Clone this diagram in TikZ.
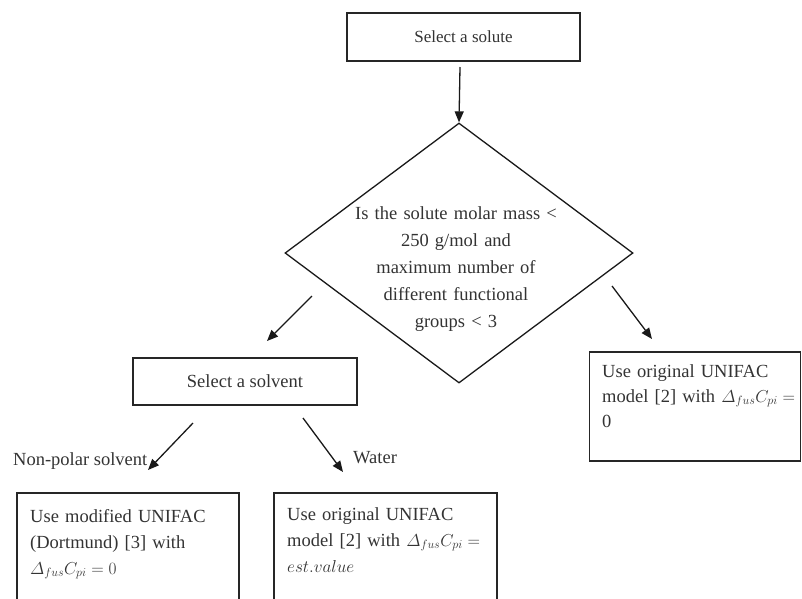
\documentclass[tikz,border=0pt]{standalone}
\usepackage{amsmath}
\usepackage{fontspec}
\setmainfont{Liberation Serif}
\usetikzlibrary{shapes.geometric,arrows.meta}
\newcommand{\fusdelta}{\varDelta_{fus}C_{pi}}
\begin{document}
\begin{tikzpicture}[x=1pt,y=-1pt,
  box/.style={draw=black!85, line width=1.1pt, inner sep=0pt},
  txt/.style={text=black!80, font=\fontsize{18.5}{26}\selectfont, inner sep=0pt},
  arr/.style={-{Triangle[length=11pt,width=9pt]}, line width=1.3pt, draw=black!90}]
\useasboundingbox (0,0) rectangle (802,598);
\clip (0,0) rectangle (802,598);
% boxes
\node[box, txt, font=\fontsize{17}{22}\selectfont, minimum width=233pt, minimum height=48pt] (solute) at (463.5,37) {Select a solute};
\node[draw=black!90, line width=1.3pt, diamond, minimum width=348pt, minimum height=260pt, inner sep=0pt] (dec) at (459,253) {};
\node[txt, font=\fontsize{18.5}{27}\selectfont, anchor=base, text width=230pt, align=center] (dtext) at (456,219) {Is the solute molar mass <\\250 g/mol and\\maximum number of\\different functional\\groups < 3};
\node[box, txt, minimum width=224pt, minimum height=47pt] (solvent) at (245,381.5) {Select a solvent};
\node[box, minimum width=211pt, minimum height=109pt] (rbox) at (695,406.5) {};
\node[box, minimum width=222pt, minimum height=130pt] (blbox) at (128,558) {};
\node[box, minimum width=223pt, minimum height=130pt] (bmbox) at (385.5,558) {};
% box texts
\node[txt, font=\fontsize{18.5}{25}\selectfont, anchor=base west, text width=195pt, align=left] (rtext) at (602,377) {Use original UNIFAC\\model [2] with $\fusdelta =$\\0};
\node[txt, anchor=base west, text width=205pt, align=left] (bltext) at (30,522) {Use modified UNIFAC\\(Dortmund) [3] with\\$\fusdelta = 0$};
\node[txt, anchor=base west, text width=205pt, align=left] (bmtext) at (287,520) {Use original UNIFAC\\model [2] with $\fusdelta =$\\$est.value$};
% labels
\node[txt, anchor=base west] (np) at (13,465) {Non-polar solvent};
\node[txt, anchor=base west] (water) at (353,463) {Water};
% connector ends
\coordinate (a1s) at (460,67);
\coordinate (a2s) at (312,296);
\coordinate (a2e) at (267,341);
\coordinate (a3s) at (612,286);
\coordinate (a3e) at (652,339);
\coordinate (a4s) at (193,423);
\coordinate (a4e) at (148,470);
\coordinate (a5s) at (303,418);
\coordinate (a5e) at (343,472);
\draw[arr] (a1s) -- (dec.north);
\draw[arr] (a2s) -- (a2e);
\draw[arr] (a3s) -- (a3e);
\draw[arr] (a4s) -- (a4e);
\draw[arr] (a5s) -- (a5e);
\end{tikzpicture}
\end{document}
